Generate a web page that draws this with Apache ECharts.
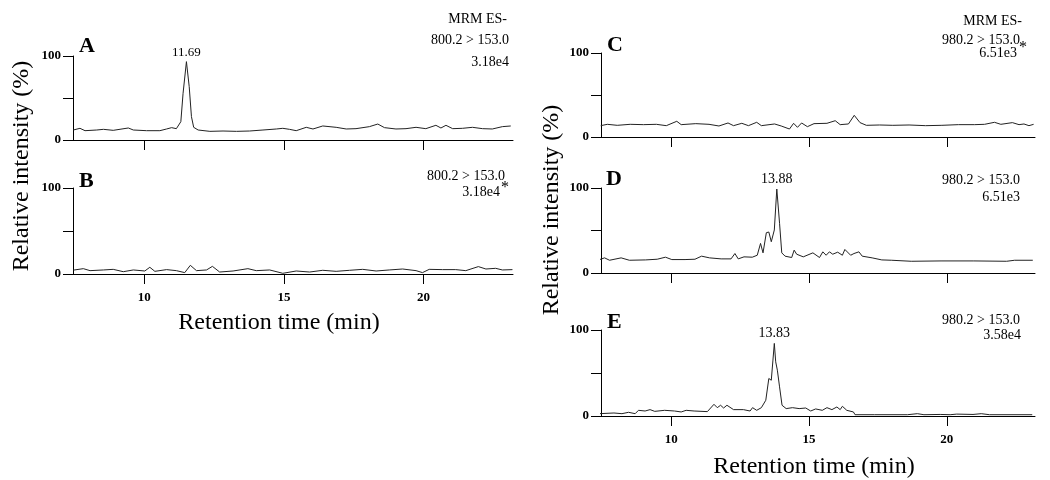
<!DOCTYPE html>
<html>
<head>
<meta charset="utf-8">
<script src="https://cdn.jsdelivr.net/npm/echarts@6/dist/echarts.min.js"></script>
<style>html,body{margin:0;padding:0;background:#fff;}#c{width:1050px;height:480px;}</style>
</head>
<body>
<div id="c"></div>
<script>
// ---- data ----
const xTicks = [10, 15, 20];
const yTicks = [0, 50, 100];
const yLabels = [0, 100];

const timeA = [7.46,7.70,7.88,8.30,8.54,8.89,9.43,9.61,10.08,10.56,10.80,10.98,11.15,11.31,11.39,11.51,11.61,11.69,11.77,11.93,12.35,12.82,13.30,13.77,14.25,14.73,14.96,15.20,15.44,15.80,16.04,16.39,16.87,17.23,17.58,18.06,18.36,18.60,19.01,19.37,19.73,20.08,20.44,20.62,20.80,21.04,21.39,21.75,22.11,22.46,22.82,23.12];
const intA  = [11.9,13.9,11.1,11.9,12.7,11.5,14.3,11.9,11.1,11.1,13.1,14.7,13.5,21.8,55.6,93.3,63.5,27.8,15.1,11.9,10.3,10.7,10.3,10.7,11.9,13.1,13.9,12.7,11.1,15.1,13.1,16.7,15.1,13.1,13.5,15.9,19.0,14.7,13.1,13.5,15.1,13.5,17.5,14.3,17.5,13.5,13.9,15.1,13.5,13.1,15.9,16.7];

const timeB = [7.46,7.52,7.82,8.06,8.54,8.89,9.25,9.61,10.02,10.20,10.38,10.80,11.15,11.45,11.65,11.87,12.23,12.44,12.70,13.18,13.71,14.01,14.49,14.96,15.44,15.92,16.39,16.87,17.35,17.82,18.30,18.77,19.25,19.73,19.96,20.20,20.68,21.15,21.51,21.96,22.23,22.58,22.82,23.18];
const intB  = [4.5,4.7,6.2,3.9,4.7,5.4,2.7,4.7,3.5,7.8,3.1,5.1,3.9,1.6,10.1,3.9,4.7,8.9,2.3,3.5,6.2,3.9,4.7,0.8,3.5,2.3,4.3,3.1,4.3,5.4,3.5,4.7,5.8,3.9,1.6,5.4,5.1,5.1,3.9,8.6,5.8,6.6,4.7,5.1];

const timeC = [7.44,7.68,8.04,8.51,8.99,9.46,9.82,10.20,10.36,10.89,11.37,11.73,12.06,12.26,12.56,12.80,13.10,13.27,13.75,13.99,14.29,14.44,14.58,14.73,14.94,15.18,15.65,15.95,16.13,16.43,16.64,16.85,17.08,17.56,18.04,18.63,19.23,19.82,20.42,21.01,21.37,21.73,21.96,22.38,22.62,22.80,22.98,23.15];
const intC  = [13.5,15.1,13.9,15.1,14.7,15.1,13.5,18.7,14.7,15.9,15.1,13.1,16.7,13.5,16.3,13.5,17.5,13.5,15.5,13.1,9.5,16.3,11.5,16.7,12.3,15.9,16.3,19.4,14.7,15.5,25.8,17.1,13.9,14.3,13.9,14.3,13.5,13.9,14.7,14.7,15.1,17.5,15.1,17.1,14.7,15.5,13.5,15.1];

const timeD = [7.40,7.58,7.76,8.18,8.48,9.07,9.49,9.79,10.02,10.50,10.86,11.10,11.39,11.81,12.17,12.31,12.43,12.64,12.94,13.12,13.24,13.33,13.45,13.54,13.63,13.74,13.83,13.93,14.01,14.13,14.37,14.46,14.55,14.79,15.14,15.38,15.50,15.62,15.74,15.86,16.04,16.21,16.30,16.51,16.63,16.81,16.93,17.29,17.64,18.00,18.71,19.79,20.98,22.17,22.46,23.12];
const intD  = [15.8,17.8,15.0,17.8,15.0,15.4,16.2,18.6,15.8,15.8,16.2,19.8,17.8,16.6,16.6,22.9,16.6,19.0,18.6,20.9,34.8,23.7,47.4,48.2,36.8,50.6,98.8,58.5,23.7,19.8,18.2,26.9,22.1,19.0,23.7,18.2,24.9,20.9,24.9,22.1,24.5,20.9,27.7,20.9,22.9,24.9,19.8,17.8,15.4,15.0,13.8,14.2,14.2,13.8,15.0,15.0];

const timeE = [7.38,7.92,8.21,8.45,8.69,8.81,9.05,9.23,9.40,9.76,10.12,10.36,10.54,10.83,11.31,11.55,11.67,11.79,11.90,12.02,12.26,12.62,12.86,12.95,13.10,13.27,13.43,13.54,13.63,13.69,13.74,13.79,13.85,13.93,14.02,14.17,14.40,14.64,14.88,15.06,15.24,15.48,15.65,15.83,16.01,16.13,16.21,16.37,16.61,16.67,17.38,18.57,18.93,19.17,19.76,20.12,20.36,20.95,21.25,21.55,23.10];
const intE  = [2.7,3.5,2.7,4.3,2.7,6.6,5.8,7.4,5.4,6.6,5.8,4.7,6.6,5.8,5.1,13.6,9.7,12.5,9.3,12.5,7.4,7.4,5.8,9.7,6.6,9.7,18.3,43.6,41.6,65.0,84.4,63.0,53.3,33.9,12.5,8.6,9.7,8.6,9.3,5.8,8.2,6.6,9.7,7.4,10.5,7.4,11.3,6.6,4.7,1.5,1.5,1.5,2.7,1.5,1.8,1.5,2.2,1.8,2.7,1.5,1.5];

const peakA = '11.69', peakD = '13.88', peakE = '13.83';

// ---- chart ----
const FONT = '"Liberation Serif","Times New Roman",serif';
const panels = [
  {t: timeA, v: intA, peak: peakA, grid: {left: 73, top: 56, width: 440, height: 84}, xlab: false, pfs: 13},
  {t: timeB, v: intB, peak: null,  grid: {left: 73, top: 188, width: 440, height: 86}, xlab: true},
  {t: timeC, v: intC, peak: null,  grid: {left: 601, top: 53, width: 434, height: 84}, xlab: false},
  {t: timeD, v: intD, peak: peakD, grid: {left: 601, top: 188, width: 434, height: 85}, xlab: false, pfs: 14},
  {t: timeE, v: intE, peak: peakE, grid: {left: 601, top: 330, width: 434, height: 86}, xlab: true, pfs: 14}
];

const grids = [], xAxes = [], yAxes = [], series = [];
panels.forEach((p, i) => {
  grids.push(Object.assign({containLabel: false}, p.grid));
  xAxes.push({
    type: 'value', gridIndex: i, min: 7.45, max: 23.2,
    axisLine: {show: true, onZero: false, lineStyle: {color: '#000', width: 1}},
    axisTick: {show: true, customValues: xTicks, length: 10, lineStyle: {color: '#000', width: 1}},
    axisLabel: {show: p.xlab, customValues: xTicks, margin: 17, color: '#000', fontSize: 13, fontFamily: FONT, fontWeight: 'bold'},
    splitLine: {show: false}
  });
  yAxes.push({
    type: 'value', gridIndex: i, min: 0, max: 100,
    axisLine: {show: true, lineStyle: {color: '#000', width: 1}},
    axisTick: {show: true, customValues: yTicks, length: 10, lineStyle: {color: '#000', width: 1}},
    axisLabel: {show: true, customValues: yLabels, margin: 12, color: '#000', fontSize: 13, fontFamily: FONT, fontWeight: 'bold'},
    splitLine: {show: false}
  });
  let maxI = 0;
  p.v.forEach((v, k) => { if (v > p.v[maxI]) maxI = k; });
  const s = {
    type: 'line', xAxisIndex: i, yAxisIndex: i,
    data: p.t.map((t, k) => [t, p.v[k]]),
    showSymbol: false, symbol: 'none', smooth: false,
    lineStyle: {color: '#222', width: 1}, silent: true
  };
  if (p.peak) {
    s.markPoint = {
      symbol: 'circle', symbolSize: 0, silent: true,
      data: [{coord: [p.t[maxI], p.v[maxI]], value: p.peak}],
      label: {show: true, position: 'top', distance: 3, formatter: p.peak,
        color: '#000', fontSize: p.pfs, fontFamily: FONT}
    };
  }
  series.push(s);
});

function txt(s, x, y, size, align, extra) {
  return Object.assign({type: 'text', x: x, y: y, silent: true,
    style: Object.assign({text: s, fill: '#000', font: size + 'px ' + FONT, align: align || 'right', verticalAlign: 'middle'}, extra || {})});
}
function bold(s, x, y, size) {
  return {type: 'text', x: x, y: y, silent: true,
    style: {text: s, fill: '#000', font: 'bold ' + size + 'px ' + FONT, align: 'left', verticalAlign: 'middle'}};
}

const graphics = [
  bold('A', 79, 46, 22), bold('B', 79, 181, 22), bold('C', 607, 45, 22), bold('D', 606, 179, 22), bold('E', 607, 322, 22),
  txt('MRM ES-', 507, 19, 14), txt('800.2 > 153.0', 509, 40, 14), txt('3.18e4', 509, 62, 14),
  txt('800.2 > 153.0', 505, 176, 14), txt('3.18e4', 500, 192, 14), txt('*', 509, 188, 16),
  txt('MRM ES-', 1022, 21, 14), txt('980.2 > 153.0', 1020, 40, 14), txt('6.51e3', 1017, 53, 14), txt('*', 1027, 48, 16),
  txt('980.2 > 153.0', 1020, 180, 14), txt('6.51e3', 1020, 197, 14),
  txt('980.2 > 153.0', 1020, 320, 14), txt('3.58e4', 1021, 335, 14),
  txt('Retention time (min)', 279, 323, 24, 'center'),
  txt('Retention time (min)', 814, 467, 24, 'center'),
  Object.assign(txt('Relative intensity (%)', 22, 166, 24, 'center'), {rotation: Math.PI / 2}),
  Object.assign(txt('Relative intensity (%)', 552, 210, 24, 'center'), {rotation: Math.PI / 2})
];

const chart = echarts.init(document.getElementById('c'), null, {renderer: 'canvas'});
chart.setOption({
  animation: false,
  backgroundColor: '#fff',
  grid: grids, xAxis: xAxes, yAxis: yAxes, series: series,
  graphic: graphics
});
</script>
</body>
</html>
